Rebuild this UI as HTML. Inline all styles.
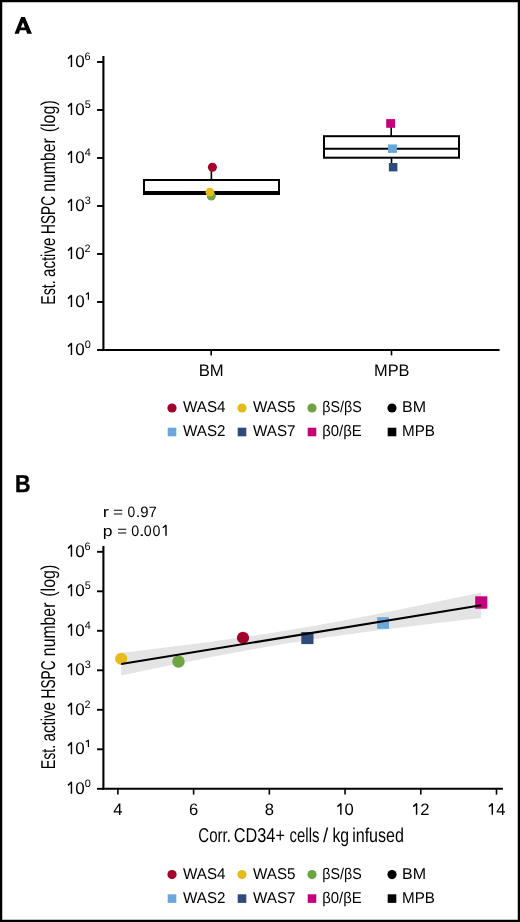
<!DOCTYPE html>
<html><head><meta charset="utf-8"><style>
html,body{margin:0;padding:0;background:#fff;}
svg{display:block;will-change:transform;}
text{fill:#000;text-rendering:geometricPrecision;}
</style></head><body>
<svg width="520" height="922" viewBox="0 0 520 922">
<rect width="520" height="922" fill="#fff"/>
<rect x="1.12" y="1.12" width="517.76" height="919.76" fill="none" stroke="#000" stroke-width="2.24"/>
<path fill-rule="evenodd" d="M14.5,33.75 L21.15,16.95 L24.85,16.95 L31.95,33.75 L27.2,33.75 L26.05,30.25 L19.95,30.25 L18.85,33.75 Z M20.95,27.45 L23.0,22.2 L24.9,27.45 Z" fill="#000"/>
<text x="15" y="492.1" font-family='"Liberation Sans", sans-serif' font-weight="bold" font-size="24.5" textLength="15.5" lengthAdjust="spacingAndGlyphs" stroke="#000" stroke-width="0.45">B</text>
<line x1="103.4" y1="56" x2="103.4" y2="351" stroke="#000" stroke-width="2.1"/>
<line x1="97" y1="350.00" x2="103.4" y2="350.00" stroke="#000" stroke-width="1.9"/>
<path d="M71.45,355.00 L71.45,343.30 M71.75,343.10 L68.00,346.60" stroke="#000" stroke-width="1.45" fill="none" stroke-linecap="butt"/>
<text x="75.17" y="354.75" font-family='"Liberation Sans", sans-serif' font-size="17">0</text>
<text x="84.66" y="347.80" font-family='"Liberation Sans", sans-serif' font-size="10.9">0</text>
<line x1="97" y1="302.00" x2="103.4" y2="302.00" stroke="#000" stroke-width="1.9"/>
<path d="M71.45,307.00 L71.45,295.30 M71.75,295.10 L68.00,298.60" stroke="#000" stroke-width="1.45" fill="none" stroke-linecap="butt"/>
<text x="75.17" y="306.75" font-family='"Liberation Sans", sans-serif' font-size="17">0</text>
<path d="M88.40,299.80 L88.40,292.80 M88.70,292.60 L85.90,294.40" stroke="#000" stroke-width="1.2" fill="none" stroke-linecap="butt"/>
<line x1="97" y1="254.00" x2="103.4" y2="254.00" stroke="#000" stroke-width="1.9"/>
<path d="M71.45,259.00 L71.45,247.30 M71.75,247.10 L68.00,250.60" stroke="#000" stroke-width="1.45" fill="none" stroke-linecap="butt"/>
<text x="75.17" y="258.75" font-family='"Liberation Sans", sans-serif' font-size="17">0</text>
<text x="84.55" y="251.80" font-family='"Liberation Sans", sans-serif' font-size="10.9">2</text>
<line x1="97" y1="206.00" x2="103.4" y2="206.00" stroke="#000" stroke-width="1.9"/>
<path d="M71.45,211.00 L71.45,199.30 M71.75,199.10 L68.00,202.60" stroke="#000" stroke-width="1.45" fill="none" stroke-linecap="butt"/>
<text x="75.17" y="210.75" font-family='"Liberation Sans", sans-serif' font-size="17">0</text>
<text x="84.66" y="203.80" font-family='"Liberation Sans", sans-serif' font-size="10.9">3</text>
<line x1="97" y1="158.00" x2="103.4" y2="158.00" stroke="#000" stroke-width="1.9"/>
<path d="M71.45,163.00 L71.45,151.30 M71.75,151.10 L68.00,154.60" stroke="#000" stroke-width="1.45" fill="none" stroke-linecap="butt"/>
<text x="75.17" y="162.75" font-family='"Liberation Sans", sans-serif' font-size="17">0</text>
<text x="84.83" y="155.80" font-family='"Liberation Sans", sans-serif' font-size="10.9">4</text>
<line x1="97" y1="110.00" x2="103.4" y2="110.00" stroke="#000" stroke-width="1.9"/>
<path d="M71.45,115.00 L71.45,103.30 M71.75,103.10 L68.00,106.60" stroke="#000" stroke-width="1.45" fill="none" stroke-linecap="butt"/>
<text x="75.17" y="114.75" font-family='"Liberation Sans", sans-serif' font-size="17">0</text>
<text x="84.66" y="107.80" font-family='"Liberation Sans", sans-serif' font-size="10.9">5</text>
<line x1="97" y1="62.00" x2="103.4" y2="62.00" stroke="#000" stroke-width="1.9"/>
<path d="M71.45,67.00 L71.45,55.30 M71.75,55.10 L68.00,58.60" stroke="#000" stroke-width="1.45" fill="none" stroke-linecap="butt"/>
<text x="75.17" y="66.75" font-family='"Liberation Sans", sans-serif' font-size="17">0</text>
<text x="84.55" y="59.80" font-family='"Liberation Sans", sans-serif' font-size="10.9">6</text>
<line x1="102.4" y1="350.0" x2="499.6" y2="350.0" stroke="#000" stroke-width="2.1"/>
<line x1="211.2" y1="350.0" x2="211.2" y2="355.4" stroke="#000" stroke-width="1.6"/>
<line x1="391.5" y1="350.0" x2="391.5" y2="355.4" stroke="#000" stroke-width="1.6"/>
<text x="211.2" y="376.2" text-anchor="middle" font-family='"Liberation Sans", sans-serif' font-size="16.8" textLength="25" lengthAdjust="spacingAndGlyphs">BM</text>
<text x="391.8" y="376.2" text-anchor="middle" font-family='"Liberation Sans", sans-serif' font-size="16.8" textLength="35.5" lengthAdjust="spacingAndGlyphs">MPB</text>
<text transform="translate(55.2,0) rotate(-90)" x="-304.84" y="0" font-family='"Liberation Sans", sans-serif' font-size="20" textLength="24.49" lengthAdjust="spacingAndGlyphs">Est.</text>
<text transform="translate(55.2,0) rotate(-90)" x="-277.00" y="0" font-family='"Liberation Sans", sans-serif' font-size="20" textLength="39.35" lengthAdjust="spacingAndGlyphs">active</text>
<text transform="translate(55.2,0) rotate(-90)" x="-234.00" y="0" font-family='"Liberation Sans", sans-serif' font-size="20" textLength="38.04" lengthAdjust="spacingAndGlyphs">HSPC</text>
<text transform="translate(55.2,0) rotate(-90)" x="-191.75" y="0" font-family='"Liberation Sans", sans-serif' font-size="20" textLength="53.55" lengthAdjust="spacingAndGlyphs">number</text>
<text transform="translate(55.2,0) rotate(-90)" x="-132.36" y="0" font-family='"Liberation Sans", sans-serif' font-size="20" textLength="32.11" lengthAdjust="spacingAndGlyphs">(log)</text>
<line x1="211.4" y1="171" x2="211.4" y2="180" stroke="#000" stroke-width="1.6"/>
<rect x="144" y="180" width="135" height="13" fill="#fff" stroke="#000" stroke-width="2"/>
<rect x="143" y="191" width="137" height="4" fill="#000"/>
<circle cx="212.4" cy="167.2" r="4.5" fill="#a3002a"/>
<circle cx="211.3" cy="196.1" r="4.5" fill="#6ca542"/>
<circle cx="209.9" cy="192.1" r="4.4" fill="#e6bc1c"/>
<line x1="391.2" y1="127" x2="391.2" y2="136" stroke="#000" stroke-width="1.6"/>
<line x1="391.5" y1="158" x2="391.5" y2="164" stroke="#000" stroke-width="1.6"/>
<rect x="324" y="136.2" width="135" height="21.5" fill="#fff" stroke="#000" stroke-width="2"/>
<line x1="324" y1="148.65" x2="459" y2="148.65" stroke="#000" stroke-width="2"/>
<rect x="386.2" y="119.1" width="8.9" height="8.7" fill="#c4007a"/>
<rect x="388" y="144.4" width="8.9" height="8.5" fill="#6aa8dc"/>
<rect x="388.9" y="163" width="8.5" height="8.4" fill="#2e4b7c"/>
<circle cx="172" cy="408" r="4.6" fill="#a3002a"/>
<text x="183" y="412.30" font-family='"Liberation Sans", sans-serif' font-size="15.6" textLength="42.5" lengthAdjust="spacingAndGlyphs">WAS4</text>
<circle cx="242" cy="408" r="4.6" fill="#e6bc1c"/>
<text x="253" y="412.30" font-family='"Liberation Sans", sans-serif' font-size="15.6" textLength="42.5" lengthAdjust="spacingAndGlyphs">WAS5</text>
<circle cx="312" cy="408" r="4.6" fill="#6ca542"/>
<text x="322.2" y="412.30" font-family='"Liberation Sans", sans-serif' font-size="15.6" textLength="39.5" lengthAdjust="spacingAndGlyphs">βS/βS</text>
<circle cx="392" cy="408" r="4.6" fill="#000"/>
<text x="402" y="412.30" font-family='"Liberation Sans", sans-serif' font-size="15.6" textLength="24" lengthAdjust="spacingAndGlyphs">BM</text>
<rect x="167.7" y="427.7" width="8.6" height="8.6" fill="#6aa8dc"/>
<text x="183" y="436.30" font-family='"Liberation Sans", sans-serif' font-size="15.6" textLength="42.5" lengthAdjust="spacingAndGlyphs">WAS2</text>
<rect x="237.7" y="427.7" width="8.6" height="8.6" fill="#2e4b7c"/>
<text x="253" y="436.30" font-family='"Liberation Sans", sans-serif' font-size="15.6" textLength="42.5" lengthAdjust="spacingAndGlyphs">WAS7</text>
<rect x="307.7" y="427.7" width="8.6" height="8.6" fill="#c4007a"/>
<text x="322.2" y="436.30" font-family='"Liberation Sans", sans-serif' font-size="15.6" textLength="39.5" lengthAdjust="spacingAndGlyphs">β0/βE</text>
<rect x="387.7" y="427.7" width="8.6" height="8.6" fill="#000"/>
<text x="402" y="436.30" font-family='"Liberation Sans", sans-serif' font-size="15.6" textLength="33" lengthAdjust="spacingAndGlyphs">MPB</text>
<line x1="103.4" y1="546" x2="103.4" y2="789.8" stroke="#000" stroke-width="2.1"/>
<line x1="97" y1="788.80" x2="103.4" y2="788.80" stroke="#000" stroke-width="1.9"/>
<path d="M71.45,793.80 L71.45,782.10 M71.75,781.90 L68.00,785.40" stroke="#000" stroke-width="1.45" fill="none" stroke-linecap="butt"/>
<text x="75.17" y="793.55" font-family='"Liberation Sans", sans-serif' font-size="17">0</text>
<text x="84.66" y="786.60" font-family='"Liberation Sans", sans-serif' font-size="10.9">0</text>
<line x1="97" y1="749.30" x2="103.4" y2="749.30" stroke="#000" stroke-width="1.9"/>
<path d="M71.45,754.30 L71.45,742.60 M71.75,742.40 L68.00,745.90" stroke="#000" stroke-width="1.45" fill="none" stroke-linecap="butt"/>
<text x="75.17" y="754.05" font-family='"Liberation Sans", sans-serif' font-size="17">0</text>
<path d="M88.40,747.10 L88.40,740.10 M88.70,739.90 L85.90,741.70" stroke="#000" stroke-width="1.2" fill="none" stroke-linecap="butt"/>
<line x1="97" y1="709.80" x2="103.4" y2="709.80" stroke="#000" stroke-width="1.9"/>
<path d="M71.45,714.80 L71.45,703.10 M71.75,702.90 L68.00,706.40" stroke="#000" stroke-width="1.45" fill="none" stroke-linecap="butt"/>
<text x="75.17" y="714.55" font-family='"Liberation Sans", sans-serif' font-size="17">0</text>
<text x="84.55" y="707.60" font-family='"Liberation Sans", sans-serif' font-size="10.9">2</text>
<line x1="97" y1="670.30" x2="103.4" y2="670.30" stroke="#000" stroke-width="1.9"/>
<path d="M71.45,675.30 L71.45,663.60 M71.75,663.40 L68.00,666.90" stroke="#000" stroke-width="1.45" fill="none" stroke-linecap="butt"/>
<text x="75.17" y="675.05" font-family='"Liberation Sans", sans-serif' font-size="17">0</text>
<text x="84.66" y="668.10" font-family='"Liberation Sans", sans-serif' font-size="10.9">3</text>
<line x1="97" y1="630.80" x2="103.4" y2="630.80" stroke="#000" stroke-width="1.9"/>
<path d="M71.45,635.80 L71.45,624.10 M71.75,623.90 L68.00,627.40" stroke="#000" stroke-width="1.45" fill="none" stroke-linecap="butt"/>
<text x="75.17" y="635.55" font-family='"Liberation Sans", sans-serif' font-size="17">0</text>
<text x="84.83" y="628.60" font-family='"Liberation Sans", sans-serif' font-size="10.9">4</text>
<line x1="97" y1="591.30" x2="103.4" y2="591.30" stroke="#000" stroke-width="1.9"/>
<path d="M71.45,596.30 L71.45,584.60 M71.75,584.40 L68.00,587.90" stroke="#000" stroke-width="1.45" fill="none" stroke-linecap="butt"/>
<text x="75.17" y="596.05" font-family='"Liberation Sans", sans-serif' font-size="17">0</text>
<text x="84.66" y="589.10" font-family='"Liberation Sans", sans-serif' font-size="10.9">5</text>
<line x1="97" y1="551.80" x2="103.4" y2="551.80" stroke="#000" stroke-width="1.9"/>
<path d="M71.45,556.80 L71.45,545.10 M71.75,544.90 L68.00,548.40" stroke="#000" stroke-width="1.45" fill="none" stroke-linecap="butt"/>
<text x="75.17" y="556.55" font-family='"Liberation Sans", sans-serif' font-size="17">0</text>
<text x="84.55" y="549.60" font-family='"Liberation Sans", sans-serif' font-size="10.9">6</text>
<line x1="102.4" y1="788.8" x2="502.9" y2="788.8" stroke="#000" stroke-width="2.1"/>
<line x1="117.90" y1="788.8" x2="117.90" y2="794.6" stroke="#000" stroke-width="1.6"/>
<text x="117.90" y="814.5" text-anchor="middle" font-family='"Liberation Sans", sans-serif' font-size="16.6">4</text>
<line x1="193.62" y1="788.8" x2="193.62" y2="794.6" stroke="#000" stroke-width="1.6"/>
<text x="193.62" y="814.5" text-anchor="middle" font-family='"Liberation Sans", sans-serif' font-size="16.6">6</text>
<line x1="269.34" y1="788.8" x2="269.34" y2="794.6" stroke="#000" stroke-width="1.6"/>
<text x="269.34" y="814.5" text-anchor="middle" font-family='"Liberation Sans", sans-serif' font-size="16.6">8</text>
<line x1="345.06" y1="788.8" x2="345.06" y2="794.6" stroke="#000" stroke-width="1.6"/>
<path d="M340.86,814.70 L340.86,803.60 M341.16,803.40 L337.46,806.60" stroke="#000" stroke-width="1.45" fill="none" stroke-linecap="butt"/>
<text x="344.60" y="814.50" font-family='"Liberation Sans", sans-serif' font-size="16.6">0</text>
<line x1="420.78" y1="788.8" x2="420.78" y2="794.6" stroke="#000" stroke-width="1.6"/>
<path d="M416.58,814.70 L416.58,803.60 M416.88,803.40 L413.18,806.60" stroke="#000" stroke-width="1.45" fill="none" stroke-linecap="butt"/>
<text x="420.15" y="814.50" font-family='"Liberation Sans", sans-serif' font-size="16.6">2</text>
<line x1="496.50" y1="788.8" x2="496.50" y2="794.6" stroke="#000" stroke-width="1.6"/>
<path d="M492.30,814.70 L492.30,803.60 M492.60,803.40 L488.90,806.60" stroke="#000" stroke-width="1.45" fill="none" stroke-linecap="butt"/>
<text x="496.28" y="814.50" font-family='"Liberation Sans", sans-serif' font-size="16.6">4</text>
<text x="198.25" y="842.20" font-family='"Liberation Sans", sans-serif' font-size="20" textLength="32.68" lengthAdjust="spacingAndGlyphs">Corr.</text>
<text x="233.79" y="842.20" font-family='"Liberation Sans", sans-serif' font-size="20" textLength="51.13" lengthAdjust="spacingAndGlyphs">CD34+</text>
<text x="289.60" y="842.20" font-family='"Liberation Sans", sans-serif' font-size="20" textLength="29.84" lengthAdjust="spacingAndGlyphs">cells</text>
<text x="323.10" y="842.20" font-family='"Liberation Sans", sans-serif' font-size="20" textLength="5.16" lengthAdjust="spacingAndGlyphs">/</text>
<text x="332.46" y="842.20" font-family='"Liberation Sans", sans-serif' font-size="20" textLength="16.63" lengthAdjust="spacingAndGlyphs">kg</text>
<text x="352.13" y="842.20" font-family='"Liberation Sans", sans-serif' font-size="20" textLength="51.87" lengthAdjust="spacingAndGlyphs">infused</text>
<text transform="translate(55.2,0) rotate(-90)" x="-769.24" y="0" font-family='"Liberation Sans", sans-serif' font-size="20" textLength="24.49" lengthAdjust="spacingAndGlyphs">Est.</text>
<text transform="translate(55.2,0) rotate(-90)" x="-741.40" y="0" font-family='"Liberation Sans", sans-serif' font-size="20" textLength="39.35" lengthAdjust="spacingAndGlyphs">active</text>
<text transform="translate(55.2,0) rotate(-90)" x="-698.40" y="0" font-family='"Liberation Sans", sans-serif' font-size="20" textLength="38.04" lengthAdjust="spacingAndGlyphs">HSPC</text>
<text transform="translate(55.2,0) rotate(-90)" x="-656.15" y="0" font-family='"Liberation Sans", sans-serif' font-size="20" textLength="53.55" lengthAdjust="spacingAndGlyphs">number</text>
<text transform="translate(55.2,0) rotate(-90)" x="-596.76" y="0" font-family='"Liberation Sans", sans-serif' font-size="20" textLength="32.11" lengthAdjust="spacingAndGlyphs">(log)</text>
<text transform="translate(102.73,516.90) scale(1.253,1)" font-family='"Liberation Sans", sans-serif' font-size="15">r</text>
<text transform="translate(113.03,516.90) scale(1.155,1)" font-family='"Liberation Sans", sans-serif' font-size="15">=</text>
<text transform="translate(127.45,516.90) scale(0.921,1)" font-family='"Liberation Sans", sans-serif' font-size="15">0</text>
<text transform="translate(135.54,516.90) scale(1.193,1)" font-family='"Liberation Sans", sans-serif' font-size="15">.</text>
<text transform="translate(140.29,516.90) scale(0.995,1)" font-family='"Liberation Sans", sans-serif' font-size="15">9</text>
<text transform="translate(148.83,516.90) scale(0.972,1)" font-family='"Liberation Sans", sans-serif' font-size="15">7</text>
<text transform="translate(102.86,535.60) scale(1.170,1)" font-family='"Liberation Sans", sans-serif' font-size="15">p</text>
<text transform="translate(117.15,535.60) scale(1.127,1)" font-family='"Liberation Sans", sans-serif' font-size="15">=</text>
<text transform="translate(131.33,535.60) scale(0.949,1)" font-family='"Liberation Sans", sans-serif' font-size="15">0</text>
<text transform="translate(138.76,535.60) scale(1.474,1)" font-family='"Liberation Sans", sans-serif' font-size="15">.</text>
<text transform="translate(143.63,535.60) scale(0.949,1)" font-family='"Liberation Sans", sans-serif' font-size="15">0</text>
<text transform="translate(152.53,535.60) scale(0.949,1)" font-family='"Liberation Sans", sans-serif' font-size="15">0</text>
<path d="M166.00,535.70 L166.00,525.20 M166.30,525.00 L162.80,527.80" stroke="#000" stroke-width="1.4" fill="none" stroke-linecap="butt"/>
<polygon points="121.20,652.80 127.20,652.09 133.20,651.38 139.20,650.67 145.20,649.95 151.20,649.22 157.20,648.49 163.20,647.76 169.20,647.02 175.20,646.28 181.20,645.52 187.20,644.76 193.20,644.00 199.20,643.22 205.20,642.44 211.20,641.64 217.20,640.84 223.20,640.02 229.20,639.20 235.20,638.36 241.20,637.50 247.20,636.63 253.20,635.75 259.20,634.85 265.20,633.94 271.20,633.01 277.20,632.06 283.20,631.09 289.20,630.11 295.20,629.11 301.20,628.09 307.20,627.06 313.20,626.01 319.20,624.94 325.20,623.85 331.20,622.76 337.20,621.64 343.20,620.52 349.20,619.38 355.20,618.23 361.20,617.07 367.20,615.90 373.20,614.72 379.20,613.53 385.20,612.33 391.20,611.13 397.20,609.91 403.20,608.70 409.20,607.47 415.20,606.24 421.20,605.01 427.20,603.76 433.20,602.52 439.20,601.27 445.20,600.02 451.20,598.76 457.20,597.50 463.20,596.24 469.20,594.97 475.20,593.71 481.20,592.43 481.20,617.97 475.20,618.66 469.20,619.35 463.20,620.05 457.20,620.75 451.20,621.46 445.20,622.16 439.20,622.87 433.20,623.59 427.20,624.31 421.20,625.03 415.20,625.76 409.20,626.49 403.20,627.23 397.20,627.97 391.20,628.72 385.20,629.48 379.20,630.25 373.20,631.02 367.20,631.80 361.20,632.60 355.20,633.40 349.20,634.21 343.20,635.04 337.20,635.88 331.20,636.73 325.20,637.59 319.20,638.47 313.20,639.37 307.20,640.28 301.20,641.21 295.20,642.15 289.20,643.12 283.20,644.10 277.20,645.09 271.20,646.11 265.20,647.14 259.20,648.19 253.20,649.26 247.20,650.34 241.20,651.43 235.20,652.54 229.20,653.66 223.20,654.80 217.20,655.95 211.20,657.11 205.20,658.28 199.20,659.45 193.20,660.64 187.20,661.84 181.20,663.04 175.20,664.25 169.20,665.47 163.20,666.70 157.20,667.93 151.20,669.16 145.20,670.40 139.20,671.64 133.20,672.89 127.20,674.14 121.20,675.40" fill="#e4e4e4"/>
<circle cx="121.2" cy="658.8" r="6.1" fill="#e6bc1c"/>
<circle cx="178.5" cy="661.6" r="6.2" fill="#6ca542"/>
<circle cx="243" cy="637.8" r="6.1" fill="#a3002a"/>
<rect x="301.3" y="632" width="12.2" height="12.1" fill="#2e4b7c"/>
<rect x="377.1" y="617.1" width="11.9" height="11.7" fill="#6aa8dc"/>
<rect x="475.2" y="596.3" width="12.1" height="12.4" fill="#c4007a"/>
<line x1="121.2" y1="664.1" x2="481.2" y2="605.2" stroke="#000" stroke-width="2"/>
<circle cx="172" cy="874.6" r="4.6" fill="#a3002a"/>
<text x="183" y="878.90" font-family='"Liberation Sans", sans-serif' font-size="15.6" textLength="42.5" lengthAdjust="spacingAndGlyphs">WAS4</text>
<circle cx="242" cy="874.6" r="4.6" fill="#e6bc1c"/>
<text x="253" y="878.90" font-family='"Liberation Sans", sans-serif' font-size="15.6" textLength="42.5" lengthAdjust="spacingAndGlyphs">WAS5</text>
<circle cx="312" cy="874.6" r="4.6" fill="#6ca542"/>
<text x="322.2" y="878.90" font-family='"Liberation Sans", sans-serif' font-size="15.6" textLength="39.5" lengthAdjust="spacingAndGlyphs">βS/βS</text>
<circle cx="392" cy="874.6" r="4.6" fill="#000"/>
<text x="402" y="878.90" font-family='"Liberation Sans", sans-serif' font-size="15.6" textLength="24" lengthAdjust="spacingAndGlyphs">BM</text>
<rect x="167.7" y="894.3000000000001" width="8.6" height="8.6" fill="#6aa8dc"/>
<text x="183" y="902.90" font-family='"Liberation Sans", sans-serif' font-size="15.6" textLength="42.5" lengthAdjust="spacingAndGlyphs">WAS2</text>
<rect x="237.7" y="894.3000000000001" width="8.6" height="8.6" fill="#2e4b7c"/>
<text x="253" y="902.90" font-family='"Liberation Sans", sans-serif' font-size="15.6" textLength="42.5" lengthAdjust="spacingAndGlyphs">WAS7</text>
<rect x="307.7" y="894.3000000000001" width="8.6" height="8.6" fill="#c4007a"/>
<text x="322.2" y="902.90" font-family='"Liberation Sans", sans-serif' font-size="15.6" textLength="39.5" lengthAdjust="spacingAndGlyphs">β0/βE</text>
<rect x="387.7" y="894.3000000000001" width="8.6" height="8.6" fill="#000"/>
<text x="402" y="902.90" font-family='"Liberation Sans", sans-serif' font-size="15.6" textLength="33" lengthAdjust="spacingAndGlyphs">MPB</text>
</svg>
</body></html>
